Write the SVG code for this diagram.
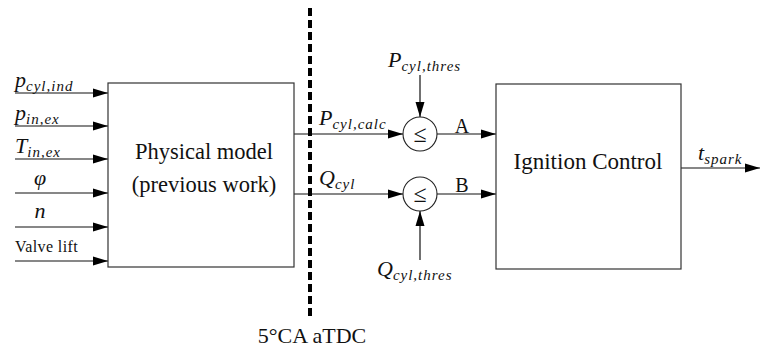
<svg xmlns="http://www.w3.org/2000/svg" width="760" height="351" viewBox="0 0 760 351">
<defs>
<style>
.box{fill:#fff;stroke:#333;stroke-width:1.2}
.ln{fill:none;stroke:#111;stroke-width:1.2}
.cmp{fill:#fff;stroke:#222;stroke-width:1.1}
.t{font-family:'Liberation Serif','DejaVu Serif',serif;fill:#111}
.m{font-family:'Liberation Serif','DejaVu Serif',serif;font-style:italic;fill:#111}
.sub{font-size:15px;letter-spacing:1px}
</style>
<marker id="ah" markerUnits="userSpaceOnUse" markerWidth="16" markerHeight="10" refX="15" refY="5" orient="auto">
<path d="M0,0.5 L15,5 L0,9.5 Z" fill="#000"/>
</marker>
</defs>

<g id="connectors">
<line class="ln" x1="15" y1="93" x2="108" y2="93" marker-end="url(#ah)"/>
<line class="ln" x1="15" y1="126" x2="108" y2="126" marker-end="url(#ah)"/>
<line class="ln" x1="15" y1="159" x2="108" y2="159" marker-end="url(#ah)"/>
<line class="ln" x1="15" y1="193" x2="108" y2="193" marker-end="url(#ah)"/>
<line class="ln" x1="15" y1="227" x2="108" y2="227" marker-end="url(#ah)"/>
<line class="ln" x1="15" y1="261" x2="108" y2="261" marker-end="url(#ah)"/>
<line class="ln" x1="294" y1="134" x2="403" y2="134" marker-end="url(#ah)"/>
<line class="ln" x1="294" y1="194" x2="403" y2="194" marker-end="url(#ah)"/>
<line class="ln" x1="420" y1="75" x2="420" y2="117" marker-end="url(#ah)"/>
<line class="ln" x1="420" y1="260" x2="420" y2="211" marker-end="url(#ah)"/>
<line class="ln" x1="437" y1="134" x2="496" y2="134" marker-end="url(#ah)"/>
<line class="ln" x1="437" y1="194" x2="496" y2="194" marker-end="url(#ah)"/>
<line class="ln" x1="681" y1="168" x2="760" y2="168" marker-end="url(#ah)"/>
</g>

<g id="divider">
<line x1="310" y1="8" x2="310" y2="318" stroke="#000" stroke-width="4" stroke-dasharray="8,4"/>
<text class="t" x="312" y="343" font-size="22" text-anchor="middle">5°CA aTDC</text>
</g>

<g id="inputs">
<text class="m" x="15" y="87" font-size="22">p<tspan class="sub" dy="4">cyl,ind</tspan></text>
<text class="m" x="15" y="120" font-size="22">p<tspan class="sub" dy="4">in,ex</tspan></text>
<text class="m" x="15" y="153" font-size="22">T<tspan class="sub" dy="4">in,ex</tspan></text>
<text class="m" x="40" y="185" font-size="22" text-anchor="middle">φ</text>
<text class="m" x="40" y="218" font-size="22" text-anchor="middle">n</text>
<text class="t" x="15" y="252" font-size="16" letter-spacing="0.4">Valve lift</text>
</g>

<g id="physical-model">
<rect class="box" x="108" y="83" width="186" height="184"/>
<text class="t" x="204" y="159" font-size="22.5" text-anchor="middle">Physical model</text>
<text class="t" x="204" y="192" font-size="22.5" text-anchor="middle">(previous work)</text>
</g>

<g id="cmp-a">
<circle class="cmp" cx="420" cy="134" r="17"/>
<text class="t" x="420" y="142" font-size="24" text-anchor="middle">≤</text>
</g>
<g id="cmp-b">
<circle class="cmp" cx="420" cy="194" r="17"/>
<text class="t" x="420" y="202" font-size="24" text-anchor="middle">≤</text>
</g>

<g id="labels">
<text class="m" x="319" y="125" font-size="22">P<tspan class="sub" dy="4">cyl,calc</tspan></text>
<text class="m" x="319" y="185" font-size="22">Q<tspan class="sub" dy="4">cyl</tspan></text>
<text class="m" x="388" y="67" font-size="22">P<tspan class="sub" dy="4">cyl,thres</tspan></text>
<text class="m" x="377" y="276" font-size="22">Q<tspan class="sub" dy="4">cyl,thres</tspan></text>
<text class="t" x="462" y="133" font-size="20" text-anchor="middle">A</text>
<text class="t" x="462" y="192" font-size="20" text-anchor="middle">B</text>
<text class="m" x="698" y="160" font-size="22">t<tspan class="sub" dy="4">spark</tspan></text>
</g>

<g id="ignition-control">
<rect class="box" x="496" y="84" width="185" height="185"/>
<text class="t" x="588" y="169" font-size="23" text-anchor="middle">Ignition Control</text>
</g>
</svg>
